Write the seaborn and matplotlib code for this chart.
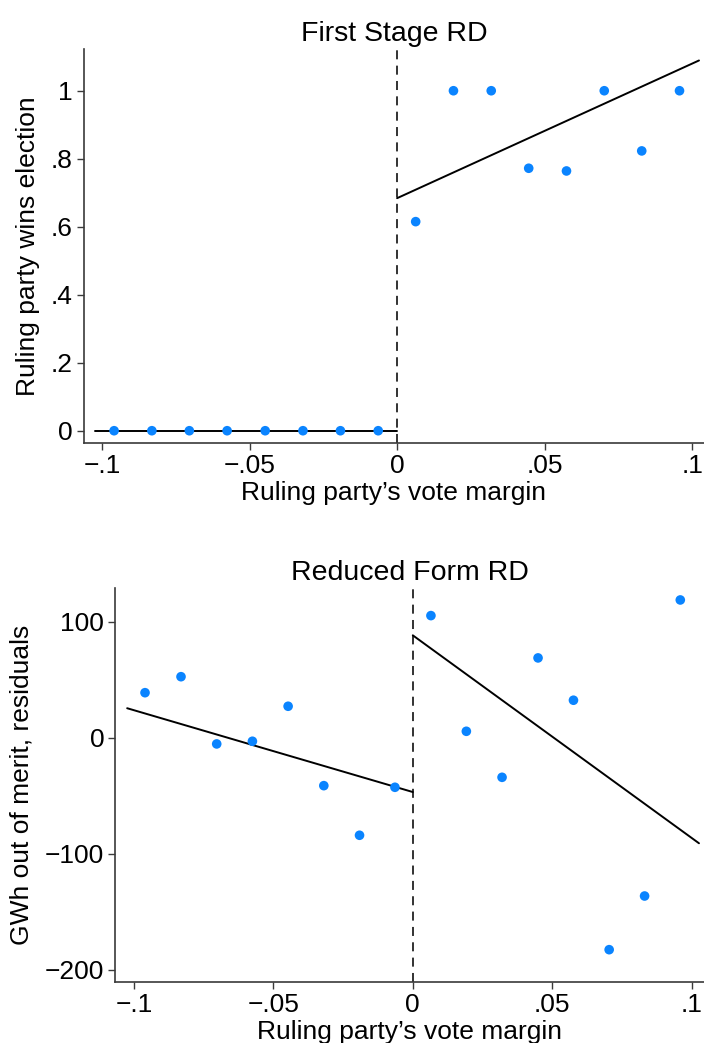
import matplotlib
matplotlib.use("Agg")
import matplotlib.pyplot as plt
import seaborn as sns
import pandas as pd

# binned scatter, first stage (ruling party wins election)
fs_left_x = [-0.0959, -0.0831, -0.0704, -0.0576, -0.0447, -0.0319, -0.0192, -0.0064]
fs_left_y = [0, 0, 0, 0, 0, 0, 0, 0]
fs_right_x = [0.0063, 0.0191, 0.0319, 0.0446, 0.0574, 0.0702, 0.0829, 0.0957]
fs_right_y = [0.615, 1.0, 1.0, 0.772, 0.764, 1.0, 0.823, 1.0]
# fitted lines (end points)
fs_fit_left_x = [-0.1023, 0.0]
fs_fit_left_y = [0.0, 0.0]
fs_fit_right_x = [0.0, 0.1023]
fs_fit_right_y = [0.684, 1.089]

# binned scatter, reduced form (GWh out of merit residuals)
rf_left_x = [-0.0960, -0.0831, -0.0703, -0.0575, -0.0447, -0.0319, -0.0191, -0.0064]
rf_left_y = [38.8, 52.6, -5.4, -3.1, 27.1, -41.4, -84.2, -42.8]
rf_right_x = [0.0065, 0.0192, 0.0320, 0.0449, 0.0576, 0.0704, 0.0831, 0.0959]
rf_right_y = [105.3, 5.5, -34.2, 68.8, 32.3, -182.9, -136.6, 118.8]
rf_fit_left_x = [-0.1024, 0.0]
rf_fit_left_y = [25.4, -46.9]
rf_fit_right_x = [0.0, 0.1026]
rf_fit_right_y = [88.3, -91.1]

x_ticks = [-0.1, -0.05, 0, 0.05, 0.1]
x_ticklabels = ["\u2212.1", "\u2212.05", "0", ".05", ".1"]
fs_yticks = [0, 0.2, 0.4, 0.6, 0.8, 1.0]
fs_yticklabels = ["0", ".2", ".4", ".6", ".8", "1"]
rf_yticks = [-200, -100, 0, 100]
rf_yticklabels = ["\u2212200", "\u2212100", "0", "100"]

sns.set_style("ticks")
plt.rcParams['font.family'] = ['Liberation Sans', 'DejaVu Sans']
plt.rcParams['axes.edgecolor'] = '#3a3a3a'
plt.rcParams['xtick.color'] = '#3a3a3a'
plt.rcParams['ytick.color'] = '#3a3a3a'
plt.rcParams['xtick.labelcolor'] = 'black'
plt.rcParams['ytick.labelcolor'] = 'black'
plt.rcParams['axes.labelcolor'] = 'black'
plt.rcParams['text.color'] = 'black'
plt.rcParams['axes.titlecolor'] = 'black'

dot_color = '#0A84FF'
fs = 19

fig = plt.figure(figsize=(7.04, 10.43), dpi=100)
ax1 = fig.add_axes([0.1193, 0.5753, 0.8807, 0.3778])
ax2 = fig.add_axes([0.164, 0.0588, 0.836, 0.3772])


def draw_panel(ax, lx, ly, rx, ry, flx, fly, frx, fry):
    pts = pd.DataFrame({'x': lx + rx, 'y': ly + ry})
    sns.lineplot(x=flx, y=fly, ax=ax, color='black', lw=1.4, zorder=2)
    sns.lineplot(x=frx, y=fry, ax=ax, color='black', lw=1.4, zorder=2)
    sns.scatterplot(data=pts, x='x', y='y', ax=ax, color=dot_color, s=48,
                    edgecolor='none', zorder=3)
    ax.axvline(0, color='#222222', lw=1.3, ls=(0, (5, 3.5)), zorder=1)
    for side in ['top', 'right']:
        ax.spines[side].set_visible(False)
    ax.spines['left'].set_linewidth(1.2)
    ax.spines['bottom'].set_linewidth(1.2)
    ax.tick_params(axis='both', length=5, width=1.0, labelsize=fs, pad=3)
    ax.set_xticks(x_ticks)
    ax.set_xticklabels(x_ticklabels)


draw_panel(ax1, fs_left_x, fs_left_y, fs_right_x, fs_right_y,
           fs_fit_left_x, fs_fit_left_y, fs_fit_right_x, fs_fit_right_y)
ax1.set_xlim(-0.1061, 0.104)
ax1.set_ylim(-0.036, 1.123)
ax1.set_yticks(fs_yticks)
ax1.set_yticklabels(fs_yticklabels)
ax1.set_title('First Stage RD', fontsize=20.5, pad=6)
ax1.set_xlabel("Ruling party\u2019s vote margin", fontsize=fs, labelpad=2)
ax1.set_ylabel('Ruling party wins election', fontsize=fs, labelpad=8)

draw_panel(ax2, rf_left_x, rf_left_y, rf_right_x, rf_right_y,
           rf_fit_left_x, rf_fit_left_y, rf_fit_right_x, rf_fit_right_y)
ax2.set_xlim(-0.1066, 0.1044)
ax2.set_ylim(-210.5, 128.9)
ax2.set_yticks(rf_yticks)
ax2.set_yticklabels(rf_yticklabels)
ax2.set_title('Reduced Form RD', fontsize=20.5, pad=6)
ax2.set_xlabel("Ruling party\u2019s vote margin", fontsize=fs, labelpad=2)
ax2.set_ylabel('GWh out of merit, residuals', fontsize=fs, labelpad=8)

fig.savefig('out.png', dpi=100)
